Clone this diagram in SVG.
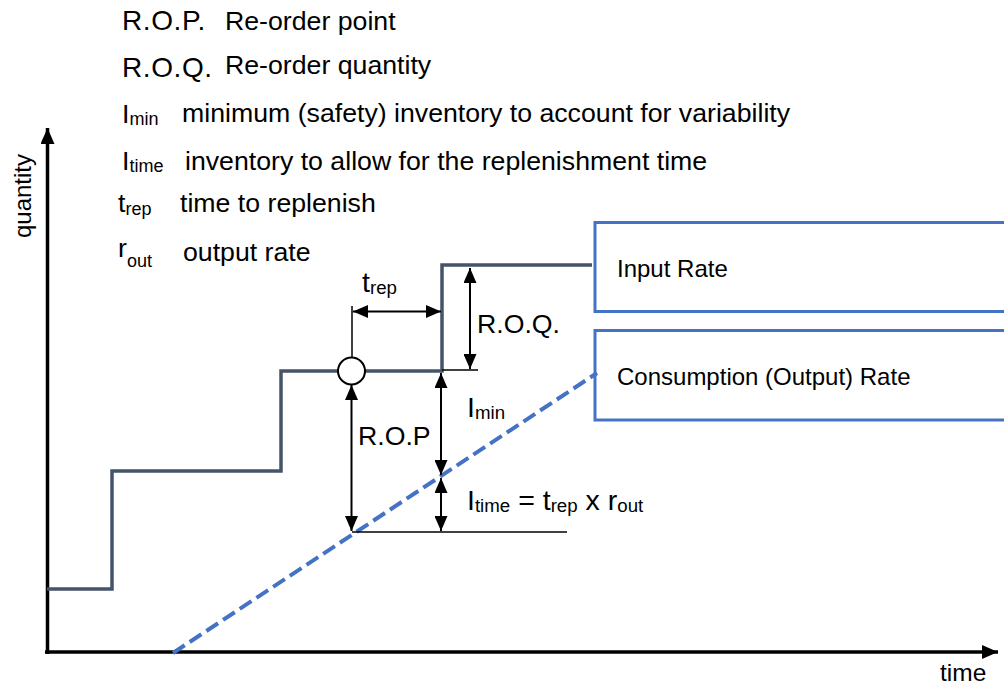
<svg xmlns="http://www.w3.org/2000/svg" width="1004" height="686" viewBox="0 0 1004 686">
<defs>
<style>
text{font-family:"Liberation Sans",Arial,sans-serif;fill:#000}
.t26{font-size:26.7px}
.abbr{font-size:28px;letter-spacing:0.6px}
.sub{font-size:18px}
.lm{font-size:28.5px}
.ls{font-size:18.7px}
.box{fill:#fff;stroke:#4472C4;stroke-width:3}
.bt{font-size:24px}
.step{fill:none;stroke:#44546A;stroke-width:3.5}
.dash{fill:none;stroke:#4472C4;stroke-width:4;stroke-dasharray:14 6}
.axis{fill:none;stroke:#000;stroke-width:3.5}
.dim{fill:none;stroke:#000;stroke-width:2}
.ext{fill:none;stroke:#000;stroke-width:1.5}
</style>
<marker id="ah" markerUnits="userSpaceOnUse" markerWidth="15" markerHeight="13" refX="15" refY="6.5" orient="auto-start-reverse" viewBox="0 0 15 13">
<path d="M0,0 L15,6.5 L0,13 z" fill="#000"/>
</marker>
<marker id="ax" markerUnits="userSpaceOnUse" markerWidth="16" markerHeight="14" refX="16" refY="7" orient="auto" viewBox="0 0 16 14">
<path d="M0,0 L16,7 L0,14 z" fill="#000"/>
</marker>
</defs>
<rect width="1004" height="686" fill="#fff"/>

<g id="legend">
<text class="abbr" x="122" y="30">R.O.P.</text>
<text class="t26" x="225" y="30">Re-order point</text>
<text class="abbr" x="122" y="77">R.O.Q.</text>
<text class="t26" x="225" y="74">Re-order quantity</text>
<text class="t26" x="122" y="123">I<tspan class="sub" dy="2">min</tspan></text>
<text class="t26" x="182" y="122">minimum (safety) inventory to account for variability</text>
<text class="t26" x="122" y="170">I<tspan class="sub" dy="2">time</tspan></text>
<text class="t26" x="185" y="170">inventory to allow for the replenishment time</text>
<text class="t26" x="118" y="212">t<tspan class="sub" dy="3">rep</tspan></text>
<text class="t26" x="180" y="212">time to replenish</text>
<text class="t26" x="118" y="257">r<tspan class="sub" dy="10">out</tspan></text>
<text class="t26" x="183" y="261">output rate</text>
</g>

<g id="axes">
<line class="axis" x1="47.5" y1="654" x2="47.5" y2="128" marker-end="url(#ax)"/>
<line class="axis" x1="45" y1="652" x2="998" y2="652" marker-end="url(#ax)"/>
<text transform="translate(31,196) rotate(-90)" text-anchor="middle" style="font-size:24px">quantity</text>
<text x="940" y="681" style="font-size:24.5px">time</text>
</g>

<g id="input-rate-box">
<rect class="box" x="595" y="222.5" width="430" height="89"/>
<text class="bt" x="617" y="277">Input Rate</text>
</g>
<g id="consumption-rate-box">
<rect class="box" x="595" y="330.5" width="430" height="89.5"/>
<text class="bt" x="617" y="385">Consumption (Output) Rate</text>
</g>

<g id="connectors">
<polyline id="input-step" class="step" points="47,589 112,589 112,471 281,471 281,371 442,371 442,265 592,265"/>
<line id="consumption-line" class="dash" x1="173" y1="653" x2="597" y2="373"/>
<line class="ext" x1="352" y1="306" x2="352" y2="357"/>
<line class="ext" x1="442" y1="370" x2="478" y2="370"/>
<line class="ext" x1="352" y1="532" x2="567" y2="532"/>
<line class="dim" x1="353" y1="311.5" x2="441" y2="311.5" marker-start="url(#ah)" marker-end="url(#ah)"/>
<line class="dim" x1="470" y1="268" x2="470" y2="369" marker-start="url(#ah)" marker-end="url(#ah)"/>
<line class="dim" x1="351.5" y1="385" x2="351.5" y2="531" marker-start="url(#ah)" marker-end="url(#ah)"/>
<line class="dim" x1="441" y1="373" x2="441" y2="475" marker-start="url(#ah)" marker-end="url(#ah)"/>
<line class="dim" x1="441" y1="478" x2="441" y2="531" marker-start="url(#ah)" marker-end="url(#ah)"/>
</g>

<g id="reorder-point">
<circle cx="351.5" cy="371" r="13.5" fill="#fff" stroke="#000" stroke-width="2"/>
</g>

<g id="labels">
<text class="lm" x="362" y="292">t<tspan class="ls" dy="2">rep</tspan></text>
<text class="t26" x="477" y="333">R.O.Q.</text>
<text class="t26" x="358" y="445">R.O.P</text>
<text class="lm" x="467" y="417">I<tspan class="ls" dy="2">min</tspan></text>
<text class="lm" x="467" y="510">I<tspan class="ls" dy="2">time</tspan><tspan dy="-2"> = t</tspan><tspan class="ls" dy="2">rep</tspan><tspan dy="-2"> x r</tspan><tspan class="ls" dy="2">out</tspan></text>
</g>
</svg>
